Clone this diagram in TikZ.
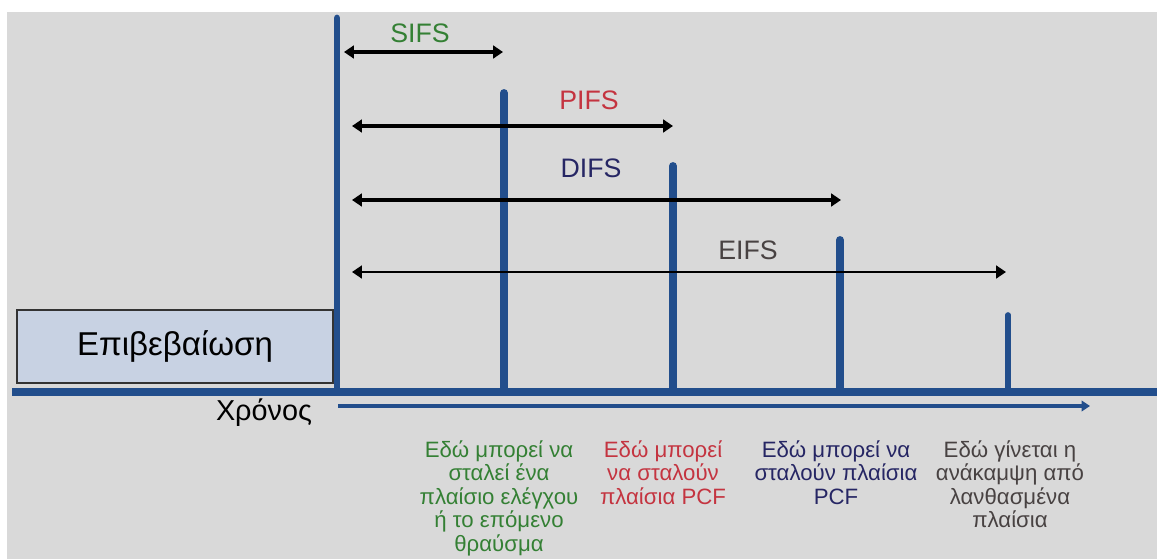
\documentclass[tikz,border=0pt]{standalone}
\usepackage{fontspec}
\setmainfont{Liberation Sans}
\usepackage{tikz}
\usetikzlibrary{arrows.meta,positioning}

\definecolor{panel}{RGB}{217,217,217}
\definecolor{barblue}{RGB}{34,78,140}
\definecolor{ackfill}{RGB}{200,210,227}
\definecolor{sifsgreen}{RGB}{52,128,52}
\definecolor{pifsred}{RGB}{196,52,64}
\definecolor{difsnavy}{RGB}{38,38,100}
\definecolor{eifsgrey}{RGB}{72,66,66}

\begin{document}
\begin{tikzpicture}[
    x=0.025cm, y=-0.025cm,
    bar/.style={draw=barblue, line width=5.6pt, line cap=round},
    axis/.style={draw=barblue, line width=5.5pt},
    span/.style={{Triangle[length=7pt, width=9pt]}-{Triangle[length=7pt, width=9pt]}, line width=2.3pt},
    ifs/.style={font=\fontsize{19}{21}\selectfont, inner sep=0pt},
    note/.style={font=\fontsize{15.8}{16.8}\selectfont, align=center, anchor=north, inner sep=0pt},
    ackbox/.style={draw=black!80, line width=0.9pt, fill=ackfill, minimum width=7.9cm, minimum height=1.825cm, font=\fontsize{23.5}{26}\selectfont}
]
% page and grey panel
\useasboundingbox (0,0) rectangle (1157,559);
\fill[white] (0,0) rectangle (1157,559);
\fill[panel] (7,12) rectangle (1157,559);

% acknowledgement frame
\node[ackbox] (ack) at (175,346.5) {Επιβεβαίωση};

% time axis
\coordinate (axL) at (12,392);
\coordinate (axR) at (1157,392);
\draw[axis] (axL) -- (axR);
\coordinate (tL) at (338,406);
\coordinate (tR) at (1090,406);
\draw[draw=barblue, line width=2.4pt, -{Triangle[length=6pt, width=7.5pt]}] (tL) -- (tR);
\node[font=\fontsize{20.5}{22}\selectfont] (time) at (264,413) {Χρόνος};

% slot bars
\coordinate (t0) at (337,18);
\coordinate (t1) at (504,93);
\coordinate (t2) at (673,166);
\coordinate (t3) at (840,240);
\coordinate (t4) at (1008,315);
\draw[bar, line width=4.8pt] (t0) -- (t0 |- axL);
\draw[bar] (t1) -- (t1 |- axL);
\draw[bar] (t2) -- (t2 |- axL);
\draw[bar] (t3) -- (t3 |- axL);
\draw[bar, line width=4pt] (t4) -- (t4 |- axL);

% interframe spaces
\coordinate (s0) at (344,52);   \coordinate (s1) at (503,52);
\coordinate (p0) at (352,126);  \coordinate (p1) at (673,126);
\coordinate (d0) at (352,200);  \coordinate (d1) at (841,200);
\coordinate (e0) at (352,272);  \coordinate (e1) at (1006,272);
\draw[span] (s0) -- (s1);
\draw[span] (p0) -- (p1);
\draw[span] (d0) -- (d1);
\draw[span, line width=1.7pt] (e0) -- (e1);

\node[ifs, text=sifsgreen] (sifs) at (420,33) {SIFS};
\node[ifs, text=pifsred] (pifs) at (589,100) {PIFS};
\node[ifs, text=difsnavy] (difs) at (591,168) {DIFS};
\node[ifs, text=eifsgrey] (eifs) at (748,250) {EIFS};

% what may happen after each gap
\node[note, text=sifsgreen] (n1) at (499,440) {Εδώ μπορεί να\\σταλεί ένα\\πλαίσιο ελέγχου\\ή το επόμενο\\θραύσμα};
\node[note, text=pifsred] (n2) at (663,440) {Εδώ μπορεί\\να σταλούν\\πλαίσια PCF};
\node[note, text=difsnavy] (n3) at (836,440) {Εδώ μπορεί να\\σταλούν πλαίσια\\PCF};
\node[note, text=eifsgrey] (n4) at (1010,440) {Εδώ γίνεται η\\ανάκαμψη από\\λανθασμένα\\πλαίσια};
\end{tikzpicture}
\end{document}
